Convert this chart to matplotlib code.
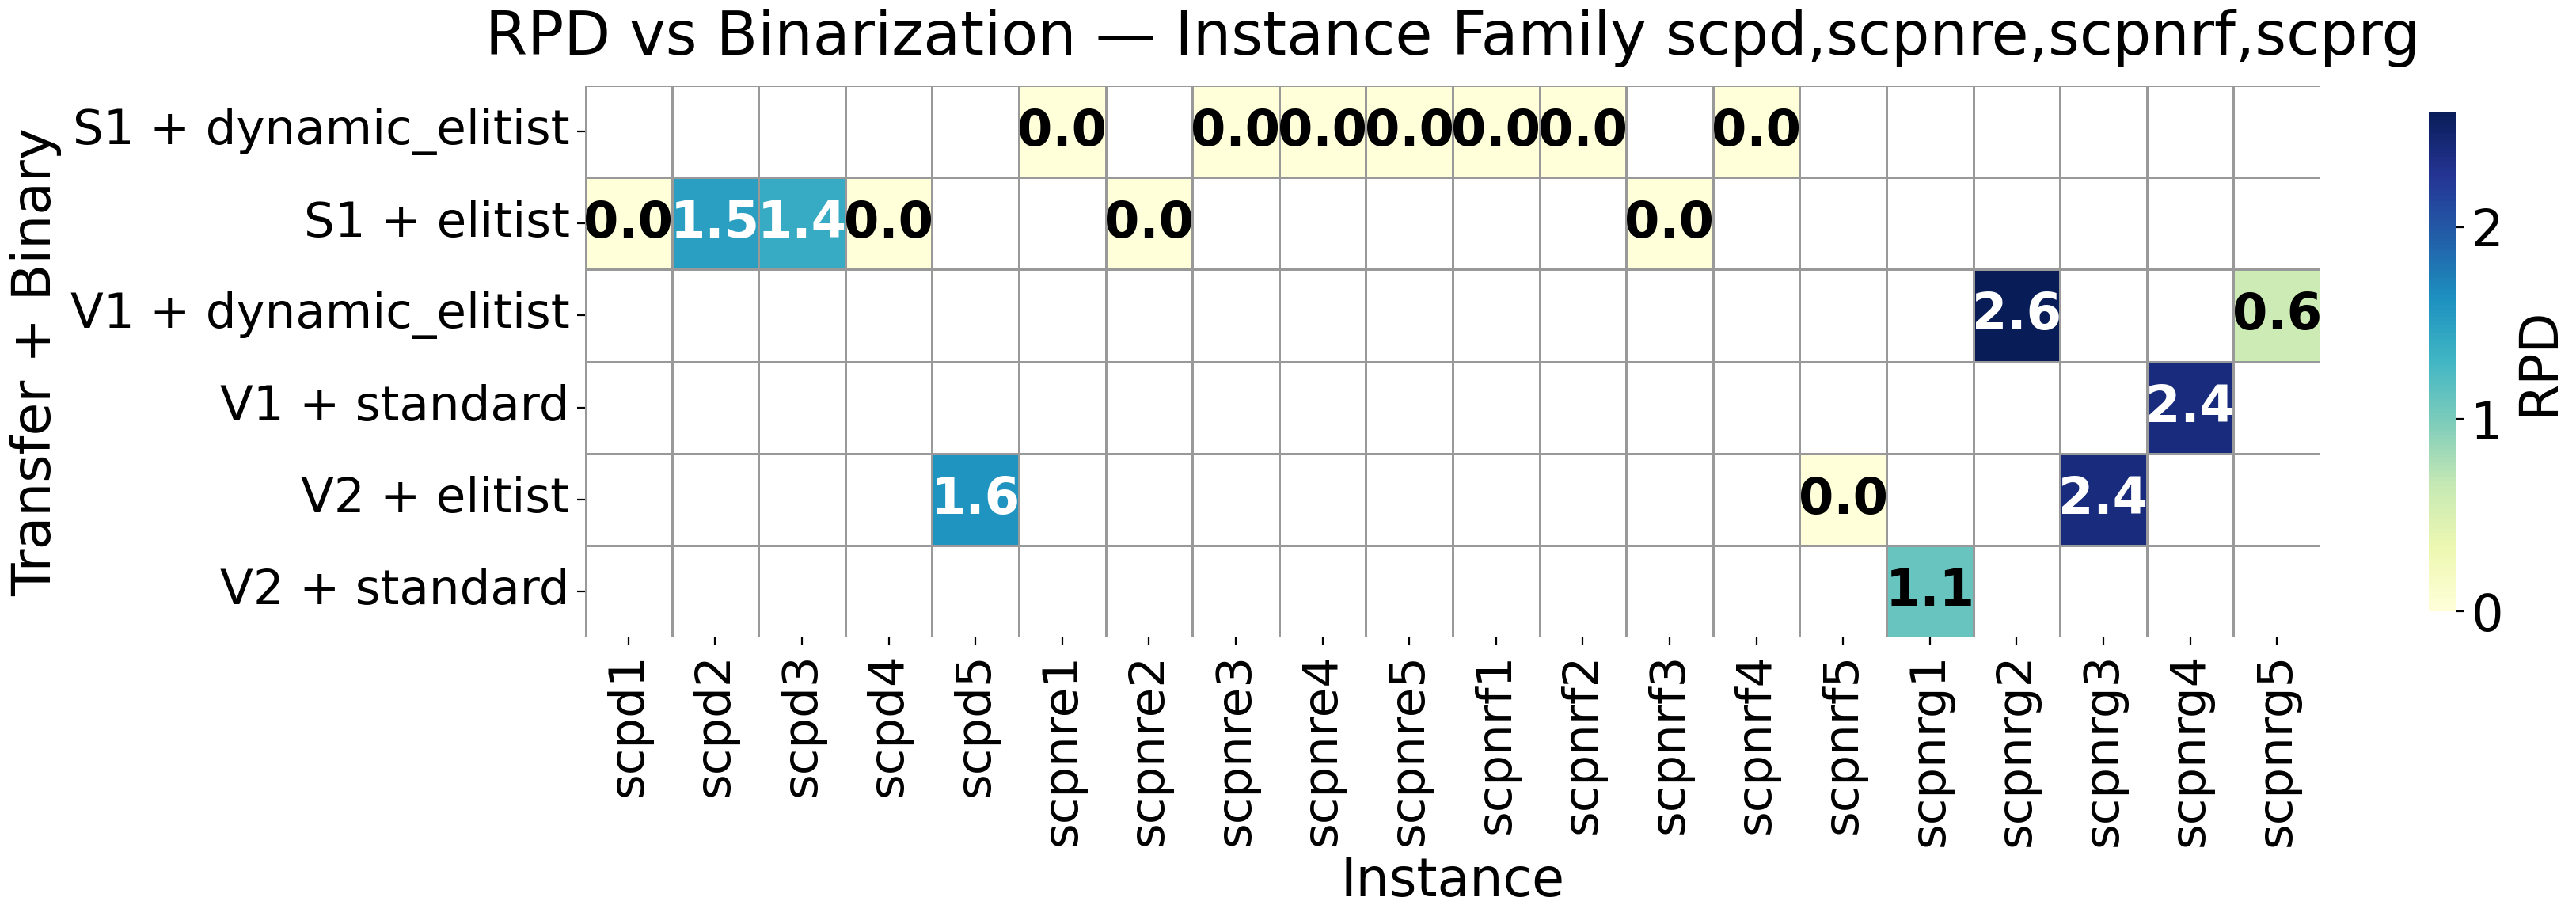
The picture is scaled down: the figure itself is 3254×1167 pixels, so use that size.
import numpy as np
import pandas as pd
import matplotlib
matplotlib.use("Agg")
import matplotlib.pyplot as plt
import seaborn as sns

instances = ["scpd1", "scpd2", "scpd3", "scpd4", "scpd5",
             "scpnre1", "scpnre2", "scpnre3", "scpnre4", "scpnre5",
             "scpnrf1", "scpnrf2", "scpnrf3", "scpnrf4", "scpnrf5",
             "scpnrg1", "scpnrg2", "scpnrg3", "scpnrg4", "scpnrg5"]
methods = ["S1 + dynamic_elitist", "S1 + elitist", "V1 + dynamic_elitist",
           "V1 + standard", "V2 + elitist", "V2 + standard"]

nan = np.nan
s1_dynamic_elitist = [nan, nan, nan, nan, nan, 0.0, nan, 0.0, 0.0, 0.0,
                      0.0, 0.0, nan, 0.0, nan, nan, nan, nan, nan, nan]
s1_elitist = [0.0, 1.5, 1.4, 0.0, nan, nan, 0.0, nan, nan, nan,
              nan, nan, 0.0, nan, nan, nan, nan, nan, nan, nan]
v1_dynamic_elitist = [nan, nan, nan, nan, nan, nan, nan, nan, nan, nan,
                      nan, nan, nan, nan, nan, nan, 2.6, nan, nan, 0.6]
v1_standard = [nan, nan, nan, nan, nan, nan, nan, nan, nan, nan,
               nan, nan, nan, nan, nan, nan, nan, nan, 2.4, nan]
v2_elitist = [nan, nan, nan, nan, 1.6, nan, nan, nan, nan, nan,
              nan, nan, nan, nan, 0.0, nan, nan, 2.4, nan, nan]
v2_standard = [nan, nan, nan, nan, nan, nan, nan, nan, nan, nan,
               nan, nan, nan, nan, nan, 1.1, nan, nan, nan, nan]

df = pd.DataFrame([s1_dynamic_elitist, s1_elitist, v1_dynamic_elitist,
                   v1_standard, v2_elitist, v2_standard],
                  index=methods, columns=instances)

W, H, DPI = 3255, 1167, 200
fig = plt.figure(figsize=(W / DPI, H / DPI), dpi=DPI)
ax = fig.add_axes([739 / W, 1 - 805 / H, (2931 - 739) / W, (805 - 108) / H])
cax = fig.add_axes([3068 / W, 1 - 772 / H, 34 / W, (772 - 141) / H])

sns.heatmap(df, ax=ax, cbar_ax=cax, cmap="YlGnBu", annot=True, fmt=".1f",
            annot_kws={"fontsize": 23, "fontweight": "bold"},
            linewidths=0.4, linecolor="#999999", vmin=0,
            cbar_kws={"label": "RPD"})

for t in ax.texts:
    c = matplotlib.colors.to_rgb(t.get_color())
    if sum(c) < 1.5:
        t.set_color("black")

ax.set_title("RPD vs Binarization — Instance Family scpd,scpnre,scpnrf,scprg",
             fontsize=27.5, pad=14)
ax.set_xlabel("Instance", fontsize=24)
ax.set_ylabel("Transfer + Binary", fontsize=24.5)
ax.tick_params(axis="x", labelsize=22, rotation=90)
ax.tick_params(axis="y", labelsize=22, rotation=0)
cax.tick_params(labelsize=23)
cax.yaxis.label.set_size(24)
cax.set_yticks([0, 1, 2])

fig.savefig("out.png", dpi=DPI)
